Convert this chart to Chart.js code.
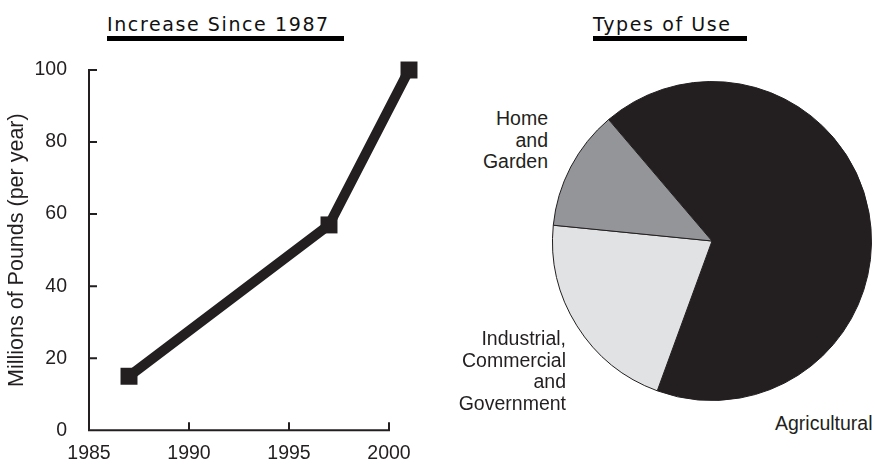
<!DOCTYPE html>
<html>
<head>
<meta charset="utf-8">
<script src="https://cdn.jsdelivr.net/npm/chart.js@4.4.1/dist/chart.umd.min.js"></script>
<style>
  body { margin: 0; background: #fff; width: 875px; height: 464px; position: relative; overflow: hidden;
         font-family: "Liberation Sans", Arial, sans-serif; color: #231f20; }
  .title { position: absolute; top: 14px; font-family: "DejaVu Sans", sans-serif; font-size: 19px; line-height: 20px;
           letter-spacing: 1.6px; padding-bottom: 2px; border-bottom: 5px solid #000; color: #111; }
  .lbl { position: absolute; font-size: 19.5px; line-height: 21.5px; text-align: right; white-space: nowrap; }
  #lineChart { position: absolute; left: 0; top: 0; }
  #pieChart { position: absolute; left: 552px; top: 81px; }
</style>
</head>
<body>
<div class="title" style="left:107px; width:237px;">Increase Since 1987</div>
<div class="title" style="left:593px; width:154px;">Types of Use</div>

<canvas id="lineChart" width="440" height="464"></canvas>
<canvas id="pieChart" width="320" height="320"></canvas>

<div class="lbl" style="right:327px; top:108px;">Home<br>and<br>Garden</div>
<div class="lbl" style="right:309px; top:328px;">Industrial,<br>Commercial<br>and<br>Government</div>
<div class="lbl" style="left:775px; top:413px;">Agricultural</div>

<script>
// line chart data
const years = [1987, 1997, 2001];
const pounds = [15, 57, 100];
const yearTicks = [1985, 1990, 1995, 2000];
const poundTicks = [0, 20, 40, 60, 80, 100];

// pie data (clockwise from the Home/Agricultural boundary)
const useLabels = ["Agricultural", "Industrial, Commercial and Government", "Home and Garden"];
const useShares = [66.8, 21.0, 12.2];
const useColors = ["#231f20", "#e1e2e4", "#939598"];

const ink = "#231f20";
const labelFont = { family: "'Liberation Sans', Arial, sans-serif", size: 19.5 };

// axis lines stop at 2000 and ticks point inward, like the reference
const drawAxes = {
  id: "drawAxes",
  beforeDatasetsDraw(chart) {
    const { ctx, scales: { x, y } } = chart;
    const x0 = x.getPixelForValue(yearTicks[0]);
    const x1 = x.getPixelForValue(yearTicks[yearTicks.length - 1]);
    const y0 = y.getPixelForValue(poundTicks[0]);
    const y1 = y.getPixelForValue(poundTicks[poundTicks.length - 1]);
    ctx.save();
    ctx.strokeStyle = ink;
    ctx.lineWidth = 2;
    ctx.lineCap = "square";
    ctx.beginPath();
    ctx.moveTo(x0, y1);
    ctx.lineTo(x0, y0);
    ctx.lineTo(x1, y0);
    yearTicks.forEach(v => {
      const px = x.getPixelForValue(v);
      ctx.moveTo(px, y0);
      ctx.lineTo(px, y0 - 7);
    });
    poundTicks.forEach(v => {
      const py = y.getPixelForValue(v);
      ctx.moveTo(x0, py);
      ctx.lineTo(x0 + 7, py);
    });
    ctx.stroke();
    ctx.restore();
  }
};

new Chart(document.getElementById("lineChart"), {
  type: "line",
  data: {
    datasets: [{
      data: years.map((x, i) => ({ x: x, y: pounds[i] })),
      borderColor: ink,
      backgroundColor: ink,
      borderWidth: 10,
      pointStyle: "rect",
      pointRadius: 12,
      pointBorderWidth: 0,
      pointBackgroundColor: ink,
      tension: 0,
      clip: false
    }]
  },
  options: {
    responsive: false,
    animation: false,
    events: [],
    layout: { padding: { top: 70, right: 31, left: 0, bottom: 0 } },
    plugins: { legend: { display: false }, tooltip: { enabled: false } },
    scales: {
      x: {
        type: "linear",
        min: 1985,
        max: 2001,
        afterBuildTicks: s => { s.ticks = yearTicks.map(v => ({ value: v })); },
        afterFit: s => { s.height = 32.5; },
        grid: { display: false, drawTicks: false },
        border: { display: false },
        ticks: { padding: 12, font: labelFont, color: ink, callback: v => String(v), maxRotation: 0 }
      },
      y: {
        min: 0,
        max: 100,
        afterBuildTicks: s => { s.ticks = poundTicks.map(v => ({ value: v })); },
        afterFit: s => { s.width = 89; },
        grid: { display: false, drawTicks: false },
        border: { display: false },
        ticks: { padding: 22, font: labelFont, color: ink },
        title: {
          display: true,
          text: "Millions of Pounds (per year)",
          font: { family: labelFont.family, size: 21.5 },
          color: ink,
          padding: { top: 4.5, bottom: 0 }
        }
      }
    }
  },
  plugins: [drawAxes]
});

new Chart(document.getElementById("pieChart"), {
  type: "pie",
  data: {
    labels: useLabels,
    datasets: [{
      data: useShares,
      backgroundColor: useColors,
      borderColor: ink,
      borderWidth: 1
    }]
  },
  options: {
    responsive: false,
    animation: false,
    events: [],
    rotation: 319.6,
    plugins: { legend: { display: false }, tooltip: { enabled: false } }
  }
});
</script>
</body>
</html>
